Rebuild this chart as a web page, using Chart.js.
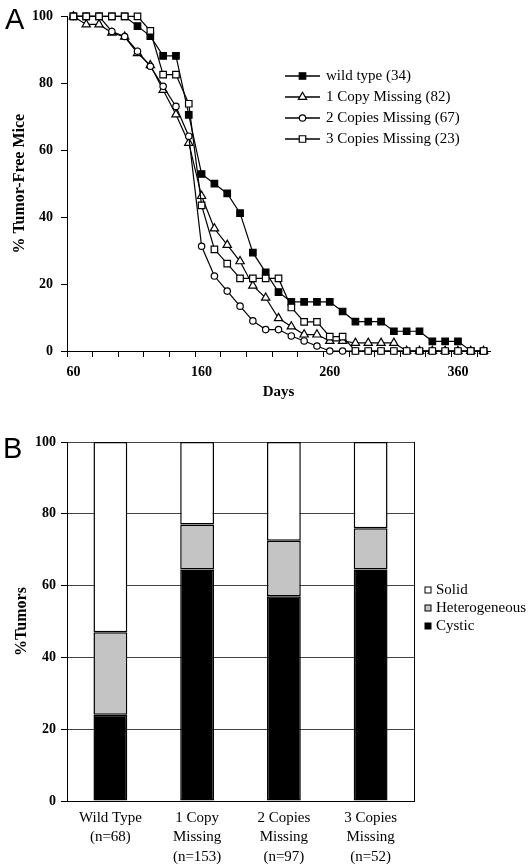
<!DOCTYPE html>
<html>
<head>
<meta charset="utf-8">
<script src="https://cdn.jsdelivr.net/npm/chart.js"></script>
<style>
  body { margin: 0; background: #fff; }
  .panel { position: absolute; left: 0; width: 529px; }
  .letter { position: absolute; font: 29px/29px "Liberation Sans", Arial, sans-serif; color: #000; z-index: 2; }
</style>
</head>
<body>
<div class="panel" style="top:0;height:410px"><canvas id="survivalChart"></canvas></div>
<div class="panel" style="top:420px;height:444px"><canvas id="tumorChart"></canvas></div>
<div class="letter" style="left:5px;top:5px">A</div>
<div class="letter" style="left:3px;top:434px">B</div>
<script>
// panel A: % tumor-free mice, one point every 10 days
const days = [60, 70, 80, 90, 100, 110, 120, 130, 140, 150, 160, 170, 180, 190, 200, 210, 220,
    230, 240, 250, 260, 270, 280, 290, 300, 310, 320, 330, 340, 350, 360, 370, 380];
const wildType = [100, 100, 100, 100, 100, 97.1, 94.1, 88.2, 88.2, 70.6, 52.9, 50, 47.1, 41.2, 29.4, 23.5, 17.6,
    14.7, 14.7, 14.7, 14.7, 11.8, 8.8, 8.8, 8.8, 5.9, 5.9, 5.9, 2.9, 2.9, 2.9, 0, 0];
const oneCopy = [100, 97.6, 97.6, 95.1, 93.9, 89.0, 85.4, 78.0, 70.7, 62.2, 46.3, 36.6, 31.7, 26.8, 19.5, 15.9, 9.8,
    7.3, 4.9, 4.9, 3.0, 3.0, 2.4, 2.4, 2.4, 2.4, 0, 0, 0, 0, 0, 0, 0];
const twoCopies = [100, 100, 100, 95.5, 94.0, 89.6, 85.1, 79.1, 73.1, 64.2, 31.3, 22.4, 17.9, 13.4, 9.0, 6.4, 6.4,
    4.5, 3.0, 1.5, 0, 0, 0, 0, 0, 0, 0, 0, 0, 0, 0, 0, 0];
const threeCopies = [100, 100, 100, 100, 100, 100, 95.7, 82.6, 82.6, 73.9, 43.5, 30.4, 26.1, 21.7, 21.7, 21.7, 21.7,
    13.0, 8.7, 8.7, 4.3, 4.3, 0, 0, 0, 0, 0, 0, 0, 0, 0, 0, 0];
const dayLabels = [60, 160, 260, 360];

// panel B: tumor type per genotype (%)
const groups = [['Wild Type', '(n=68)'], ['1 Copy', 'Missing', '(n=153)'],
    ['2 Copies', 'Missing', '(n=97)'], ['3 Copies', 'Missing', '(n=52)']];
const cystic = [24, 64.5, 57, 64.5];
const heterogeneous = [23, 12.5, 15.5, 11.5];
const solid = [53, 23, 27.5, 24];

Chart.defaults.font.family = '"Liberation Serif", "Times New Roman", serif';
Chart.defaults.color = '#000';
Chart.defaults.animation = false;

// legend drawn inside the plot, line + marker + text
const pointLegend = {
    id: 'pointLegend',
    afterDraw(chart, args, opts) {
        const ctx = chart.ctx;
        ctx.save();
        ctx.font = opts.font;
        ctx.textBaseline = 'middle';
        chart.data.datasets.forEach((ds, i) => {
            const p = chart.getDatasetMeta(i).data[0].options;
            const y = opts.top + i * opts.rowHeight;
            ctx.strokeStyle = '#000';
            ctx.lineWidth = 1.5;
            ctx.beginPath();
            ctx.moveTo(opts.left, y);
            ctx.lineTo(opts.left + opts.lineLength, y);
            ctx.stroke();
            ctx.fillStyle = p.backgroundColor;
            ctx.strokeStyle = p.borderColor;
            ctx.lineWidth = p.borderWidth;
            Chart.helpers.drawPoint(ctx, p, opts.left + opts.lineLength / 2, y);
            ctx.fillStyle = '#000';
            ctx.fillText(ds.label, opts.left + opts.lineLength + opts.gap, y);
        });
        ctx.restore();
    }
};

const boxLegend = {
    id: 'boxLegend',
    afterDraw(chart, args, opts) {
        const ctx = chart.ctx;
        ctx.save();
        ctx.font = opts.font;
        ctx.textBaseline = 'middle';
        opts.order.forEach((idx, row) => {
            const ds = chart.data.datasets[idx];
            const y = opts.top + row * opts.rowHeight;
            ctx.fillStyle = ds.backgroundColor;
            ctx.strokeStyle = '#000';
            ctx.lineWidth = 1;
            ctx.fillRect(opts.left, y - opts.box / 2, opts.box, opts.box);
            ctx.strokeRect(opts.left, y - opts.box / 2, opts.box, opts.box);
            ctx.fillStyle = '#000';
            ctx.fillText(ds.label, opts.left + opts.box + opts.gap, y);
        });
        ctx.restore();
    }
};

const survival = new Chart(document.getElementById('survivalChart'), {
    type: 'line',
    data: {
        labels: days,
        datasets: [{
            label: 'wild type (34)',
            data: wildType,
            pointStyle: 'rect',
            pointRadius: 4.6,
            pointBackgroundColor: '#000',
            order: 3
        }, {
            label: '1 Copy Missing (82)',
            data: oneCopy,
            pointStyle: 'triangle',
            pointRadius: 4.8,
            pointBackgroundColor: '#fff',
            order: 2
        }, {
            label: '2 Copies Missing (67)',
            data: twoCopies,
            pointStyle: 'circle',
            pointRadius: 3.2,
            pointBackgroundColor: '#fff',
            order: 1
        }, {
            label: '3 Copies Missing (23)',
            data: threeCopies,
            pointStyle: 'rect',
            pointRadius: 4.6,
            pointBackgroundColor: '#fff',
            order: 0
        }]
    },
    options: {
        responsive: true,
        maintainAspectRatio: false,
        layout: { padding: { top: 9, right: 39, bottom: 0, left: 0 } },
        elements: {
            line: { borderColor: '#000', borderWidth: 1.2, tension: 0 },
            point: { borderColor: '#000', borderWidth: 1.2, hoverRadius: 4.6 }
        },
        datasets: { line: { clip: false } },
        plugins: {
            legend: { display: false },
            tooltip: { enabled: false },
            pointLegend: { left: 285, top: 76, rowHeight: 21, lineLength: 35, gap: 6,
                font: '15px "Liberation Serif", serif' }
        },
        scales: {
            x: {
                type: 'category',
                offset: true,
                grid: {
                    offset: true,
                    drawOnChartArea: false,
                    tickLength: 6,
                    tickColor: (c) => c.index % 2 === 0 ? '#000' : 'rgba(0,0,0,0)'
                },
                border: { color: '#000', width: 1 },
                ticks: {
                    autoSkip: false,
                    maxRotation: 0,
                    padding: 7,
                    font: { size: 14, weight: 'bold' },
                    callback: (v, i) => dayLabels.includes(days[i]) ? days[i] : ''
                },
                title: { display: true, text: 'Days', font: { size: 15, weight: 'bold' }, padding: { top: 0, bottom: 9 } },
                afterFit: (s) => { s.height = 59; }
            },
            y: {
                min: 0,
                max: 100,
                ticks: { stepSize: 20, padding: 8, font: { size: 14, weight: 'bold' } },
                grid: { drawOnChartArea: false, tickLength: 6, tickColor: '#000' },
                border: { color: '#000', width: 1 },
                title: { display: true, text: '% Tumor-Free Mice', font: { size: 16, weight: 'bold' }, padding: { top: 10, bottom: 0 } },
                afterFit: (s) => { s.width = 67; }
            }
        }
    },
    plugins: [pointLegend]
});

const tumors = new Chart(document.getElementById('tumorChart'), {
    type: 'bar',
    data: {
        labels: groups,
        datasets: [{
            label: 'Cystic',
            data: cystic,
            backgroundColor: '#000'
        }, {
            label: 'Heterogeneous',
            data: heterogeneous,
            backgroundColor: '#c4c4c4'
        }, {
            label: 'Solid',
            data: solid,
            backgroundColor: '#fff'
        }]
    },
    options: {
        responsive: true,
        maintainAspectRatio: false,
        layout: { padding: { top: 22, right: 115, bottom: 0, left: 0 } },
        datasets: {
            bar: { borderColor: '#000', borderWidth: 1.5, borderSkipped: false, barPercentage: 0.39, categoryPercentage: 1 }
        },
        plugins: {
            legend: { display: false },
            tooltip: { enabled: false },
            boxLegend: { left: 425, top: 170, rowHeight: 18, box: 6, gap: 5, order: [2, 1, 0],
                font: '15px "Liberation Serif", serif' }
        },
        scales: {
            x: {
                stacked: true,
                grid: { display: false },
                border: { color: '#000', width: 1 },
                ticks: { autoSkip: false, maxRotation: 0, padding: -1, font: { size: 15, lineHeight: 1.3 } },
                afterFit: (s) => { s.height = 63; }
            },
            y: {
                stacked: true,
                min: 0,
                max: 100,
                ticks: { stepSize: 20, padding: 5, font: { size: 14, weight: 'bold' } },
                grid: { color: '#444', tickColor: '#000', tickLength: 6 },
                border: { color: '#000', width: 1 },
                title: { display: true, text: '%Tumors', font: { size: 16, weight: 'bold' }, padding: { top: 12, bottom: 0 } },
                afterFit: (s) => { s.width = 67; }
            },
            y2: {
                position: 'right',
                grid: { drawOnChartArea: false, drawTicks: false },
                ticks: { display: false },
                border: { color: '#000', width: 1 }
            }
        }
    },
    plugins: [boxLegend]
});
</script>
</body>
</html>
